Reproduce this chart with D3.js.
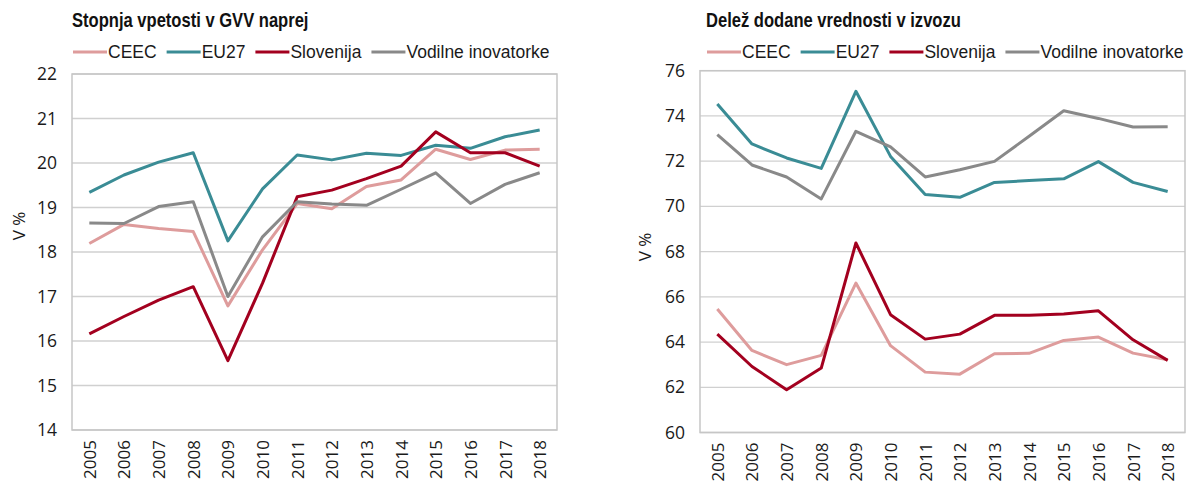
<!DOCTYPE html>
<html>
<head>
<meta charset="utf-8">
<script src="https://cdn.jsdelivr.net/npm/d3@7"></script>
<style>
  body { margin: 0; background: #fff; }
  svg { display: block; }
</style>
</head>
<body>
<div id="chart"></div>
<script>
// data
var years = [2005, 2006, 2007, 2008, 2009, 2010, 2011, 2012, 2013, 2014, 2015, 2016, 2017, 2018];
var seriesNames = ["CEEC", "EU27", "Slovenija", "Vodilne inovatorke"];
var seriesColors = ["#de9c9c", "#3a8c95", "#a3001f", "#898989"];

// Stopnja vpetosti v GVV naprej
var ceecGvv = [18.19, 18.62, 18.53, 18.46, 16.79, 18.05, 19.09, 18.97, 19.47, 19.62, 20.31, 20.08, 20.29, 20.31];
var eu27Gvv = [19.34, 19.73, 20.02, 20.23, 18.25, 19.42, 20.18, 20.07, 20.22, 20.17, 20.40, 20.33, 20.59, 20.74];
var sloGvv = [16.16, 16.55, 16.92, 17.22, 15.56, 17.30, 19.24, 19.39, 19.65, 19.93, 20.70, 20.23, 20.23, 19.93];
var vodGvv = [18.65, 18.64, 19.02, 19.13, 17.00, 18.34, 19.13, 19.08, 19.05, 19.41, 19.78, 19.09, 19.52, 19.78];
var gvvTicks = [14, 15, 16, 17, 18, 19, 20, 21, 22];

// Delez dodane vrednosti v izvozu
var ceecVa = [65.46, 63.63, 63.00, 63.41, 66.61, 63.84, 62.67, 62.58, 63.48, 63.50, 64.07, 64.22, 63.51, 63.22];
var eu27Va = [74.53, 72.76, 72.14, 71.68, 75.09, 72.21, 70.52, 70.40, 71.06, 71.14, 71.22, 71.98, 71.06, 70.66];
var sloVa = [64.35, 62.92, 61.89, 62.85, 68.38, 65.21, 64.13, 64.35, 65.18, 65.18, 65.24, 65.38, 64.10, 63.19];
var vodVa = [73.17, 71.83, 71.30, 70.33, 73.32, 72.63, 71.30, 71.62, 71.99, 73.10, 74.23, 73.89, 73.51, 73.52];
var vaTicks = [60, 62, 64, 66, 68, 70, 72, 74, 76];

var svg = d3.select("#chart").append("svg")
    .attr("width", 1189)
    .attr("height", 483);

var titleFont = "'Liberation Sans', Arial, sans-serif";
var tickFont = "'Open Sans', 'Noto Sans', sans-serif";

function drawChart(opt) {
    var x = d3.scalePoint().domain(years).range([opt.left, opt.right]).padding(0.5);
    var y = d3.scaleLinear().domain(opt.domain).range([opt.bottom, opt.top]);
    var g = svg.append("g");

    // title, squeezed a bit to look like a condensed bold face
    g.append("text")
        .attr("transform", "translate(" + opt.titleX + ",27) scale(0.85,1)")
        .style("font-family", titleFont)
        .style("font-weight", "bold")
        .style("font-size", "19.5px")
        .attr("fill", "#111")
        .text(opt.title);

    // gridlines
    g.selectAll(".grid").data(opt.ticks).enter().append("line")
        .attr("x1", opt.left).attr("x2", opt.right)
        .attr("y1", function (d) { return y(d); })
        .attr("y2", function (d) { return y(d); })
        .attr("stroke", "#d0d0d0")
        .attr("stroke-width", 1.3);

    // plot frame
    g.append("rect")
        .attr("x", opt.left).attr("y", opt.top)
        .attr("width", opt.right - opt.left)
        .attr("height", opt.bottom - opt.top)
        .attr("fill", "none")
        .attr("stroke", "#c6c6c6")
        .attr("stroke-width", 1.5);

    // y axis labels
    var yAxis = d3.axisLeft(y).tickValues(opt.ticks).tickSize(0).tickPadding(15);
    var ya = g.append("g").attr("transform", "translate(" + opt.left + ",0)").call(yAxis);
    ya.select(".domain").remove();
    ya.selectAll("text")
        .style("font-family", tickFont)
        .style("font-size", "17.5px")
        .attr("fill", "#1a1a1a");

    // x axis labels, rotated
    var xAxis = d3.axisBottom(x).tickSize(0).tickPadding(0);
    var xa = g.append("g").attr("transform", "translate(0," + opt.bottom + ")").call(xAxis);
    xa.select(".domain").remove();
    xa.selectAll("text")
        .style("font-family", tickFont)
        .style("font-size", "17px")
        .attr("fill", "#1a1a1a")
        .attr("text-anchor", "end")
        .attr("dy", null)
        .attr("y", 0)
        .attr("transform", "translate(6,10) rotate(-90)");

    // y title
    g.append("text")
        .attr("transform", "translate(" + opt.yTitleX + "," + opt.yTitleY + ") rotate(-90)")
        .attr("text-anchor", "middle")
        .style("font-family", tickFont)
        .style("font-size", "17px")
        .attr("fill", "#1a1a1a")
        .text("V %");

    // lines
    var line = d3.line()
        .x(function (d, i) { return x(years[i]); })
        .y(function (d) { return y(d); });
    opt.series.forEach(function (s, i) {
        g.append("path")
            .datum(s)
            .attr("d", line)
            .attr("fill", "none")
            .attr("stroke", seriesColors[i])
            .attr("stroke-width", 3)
            .attr("stroke-linejoin", "round");
    });

    // legend
    var lx = opt.titleX + 1;
    seriesNames.forEach(function (name, i) {
        g.append("line")
            .attr("x1", lx).attr("x2", lx + 34)
            .attr("y1", 52).attr("y2", 52)
            .attr("stroke", seriesColors[i])
            .attr("stroke-width", 3);
        var t = g.append("text")
            .attr("x", lx + 35)
            .attr("y", 58)
            .style("font-family", titleFont)
            .style("font-size", "17.5px")
            .attr("fill", "#1a1a1a")
            .text(name);
        lx = lx + 35 + t.node().getComputedTextLength() + 10;
    });
}

drawChart({
    title: "Stopnja vpetosti v GVV naprej",
    titleX: 72,
    left: 72, right: 557, top: 74, bottom: 430,
    domain: [14, 22], ticks: gvvTicks,
    yTitleX: 25, yTitleY: 226,
    series: [ceecGvv, eu27Gvv, sloGvv, vodGvv]
});

drawChart({
    title: "Delež dodane vrednosti v izvozu",
    titleX: 706,
    left: 700, right: 1185, top: 70.7, bottom: 432.5,
    domain: [60, 76], ticks: vaTicks,
    yTitleX: 651, yTitleY: 247,
    series: [ceecVa, eu27Va, sloVa, vodVa]
});
</script>
</body>
</html>
